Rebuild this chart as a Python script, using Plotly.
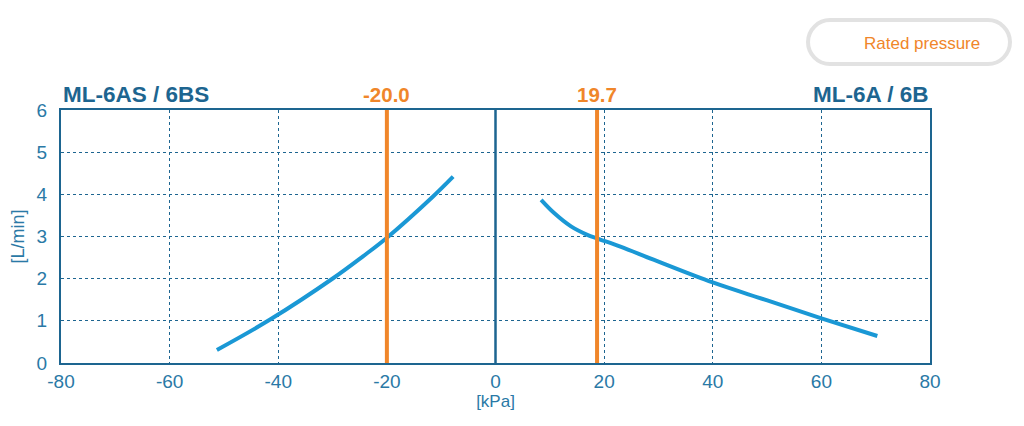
import plotly.graph_objects as go

# Data
left_x = [-51.3, -41.5, -29.9, -24.4, -20.1, -11.5, -7.8]
left_y = [0.31, 1.03, 2.01, 2.53, 2.96, 3.95, 4.42]
right_x = [8.4, 10.85, 13.9, 16.9, 18.8, 23.0, 29.1, 40.0, 49.9, 60.0, 70.3]
right_y = [3.87, 3.55, 3.24, 3.04, 2.95, 2.76, 2.45, 1.91, 1.49, 1.06, 0.64]
rated_pos = [-20.0, 18.7]
rated_labels = ["-20.0", "19.7"]
series_names = ["ML-6AS / 6BS", "ML-6A / 6B"]
x_ticks = [-80, -60, -40, -20, 0, 20, 40, 60, 80]
y_ticks = [0, 1, 2, 3, 4, 5, 6]

DARK = "#1d6590"
CURVE = "#1a98d5"
ORANGE = "#f0862a"
NARROW = "Liberation Sans Narrow, Arial Narrow, Liberation Sans, Arial"
TICKFONT = dict(family=NARROW, size=19, color="#2a79a6")

# page body margin offset (8px) compensation
OFF = 8
L, R, T, B = 61 - OFF, 1024 - 930 + OFF, 110 - OFF, 426 - 363 + OFF

fig = go.Figure()
fig.add_trace(go.Scatter(x=left_x, y=left_y, mode="lines",
                         line=dict(color=CURVE, width=4, shape="spline", smoothing=1.0),
                         name=series_names[0], showlegend=False))
fig.add_trace(go.Scatter(x=right_x, y=right_y, mode="lines",
                         line=dict(color=CURVE, width=4, shape="spline", smoothing=1.0),
                         name=series_names[1], showlegend=False))

for p, lab in zip(rated_pos, rated_labels):
    fig.add_shape(type="line", x0=p, x1=p, y0=0, y1=6, xref="x", yref="y",
                  line=dict(color=ORANGE, width=4), layer="above")
    fig.add_annotation(x=p, y=1, xref="x", yref="paper", xanchor="center", yanchor="bottom", yshift=2,
                       text="<b>%s</b>" % lab, showarrow=False,
                       font=dict(family="Liberation Sans, Arial", size=20.5, color=ORANGE))

fig.add_annotation(x=0, y=1, xref="paper", yref="paper", xanchor="left", yanchor="bottom", yshift=1,
                   text="<b>%s</b>" % series_names[0], showarrow=False,
                   font=dict(family="Liberation Sans, Arial", size=22.5, color=DARK))
fig.add_annotation(x=1, y=1, xref="paper", yref="paper", xanchor="right", yanchor="bottom", yshift=1,
                   text="<b>%s</b>" % series_names[1], showarrow=False,
                   font=dict(family="Liberation Sans, Arial", size=22.5, color=DARK))

# zero line
fig.add_shape(type="line", x0=0, x1=0, y0=0, y1=6, xref="x", yref="y",
              line=dict(color=DARK, width=2.5), layer="above")

# Rounded "Rated pressure" box (paper coords)
W, H = 869.0, 253.3
x0, x1 = (808 - 61) / W, (1010 - 61) / W
y0, y1 = (363.3 - 64) / H, (363.3 - 20) / H
rx, ry = 22 / W, 22 / H
k = 0.55
path = (f"M {x0+rx},{y1} L {x1-rx},{y1} "
        f"C {x1-rx+k*rx},{y1} {x1},{y1-ry+k*ry} {x1},{y1-ry} "
        f"L {x1},{y0+ry} "
        f"C {x1},{y0+ry-k*ry} {x1-rx+k*rx},{y0} {x1-rx},{y0} "
        f"L {x0+rx},{y0} "
        f"C {x0+rx-k*rx},{y0} {x0},{y0+ry-k*ry} {x0},{y0+ry} "
        f"L {x0},{y1-ry} "
        f"C {x0},{y1-ry+k*ry} {x0+rx-k*rx},{y1} {x0+rx},{y1} Z")
fig.add_shape(type="path", path=path, xref="paper", yref="paper",
              line=dict(color="#e2e2e2", width=4), fillcolor="white")
fig.add_annotation(x=(922 - 61) / W, y=(363.3 - 43) / H, xref="paper", yref="paper",
                   xanchor="center", yanchor="middle",
                   text="Rated pressure", showarrow=False,
                   font=dict(family=NARROW, size=17, color=ORANGE))

fig.update_xaxes(range=[-80, 80], tickvals=x_ticks, ticktext=[str(v) for v in x_ticks],
                 showline=True, mirror=True, linecolor=DARK, linewidth=2,
                 showgrid=True, gridcolor=DARK, griddash="dot", gridwidth=1,
                 zeroline=False, ticks="", tickfont=TICKFONT, automargin=False,
                 title=dict(text="[kPa]", font=dict(family=NARROW, size=17, color="#2a79a6"), standoff=0))
fig.update_yaxes(range=[0, 6], tickvals=y_ticks,
                 showline=True, mirror=True, linecolor=DARK, linewidth=2,
                 showgrid=True, gridcolor=DARK, griddash="dot", gridwidth=1,
                 zeroline=False, ticks="", tickfont=TICKFONT, ticklabelstandoff=8, automargin=False,
                 title=dict(text="[L/min]", font=dict(family=NARROW, size=18, color="#2a79a6"), standoff=10))

fig.update_layout(width=1024, height=426, margin=dict(l=L, r=R, t=T, b=B),
                  paper_bgcolor="white", plot_bgcolor="white", showlegend=False)

fig.write_html("out.html")
